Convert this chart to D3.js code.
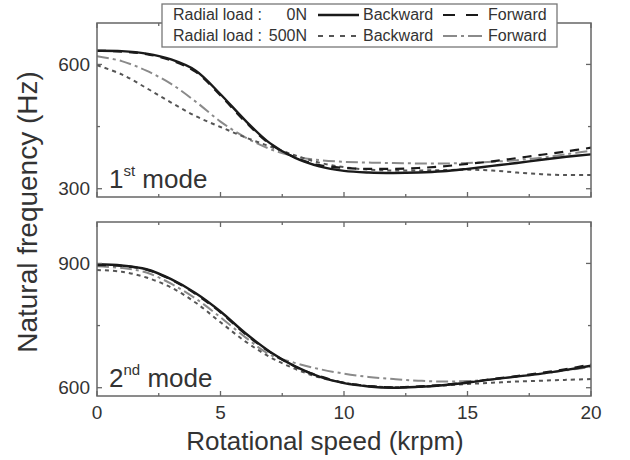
<!DOCTYPE html>
<html>
<head>
<meta charset="utf-8">
<script src="https://cdn.jsdelivr.net/npm/d3@7"></script>
<style>
  body { margin: 0; background: #fff; }
  text { font-family: "Liberation Sans", Arial, sans-serif; fill: #333; }
</style>
</head>
<body>
<svg id="chart" width="630" height="460"></svg>
<script>
// rotational speed (krpm)
const speed = [0,1,2,3,4,5,6,7,8,9,10,11,12,13,14,15,16,17,18,19,20];

// 1st mode natural frequency (Hz)
const mode1_0N_backward   = [633,632,626,612,585,528,465,410,375,354,343,339,338,339,342,348,355,362,370,377,383];
const mode1_0N_forward    = [633,631,625,610,582,525,462,408,376,357,350,348,348,350,354,360,366,374,382,390,399];
const mode1_500N_backward = [598,576,543,508,475,449,424,402,381,363,352,346,344,344,345,346,344,339,335,333,333];
const mode1_500N_forward  = [620,608,585,553,510,462,424,396,378,369,365,363,362,361,361,362,365,369,375,383,392];

// 2nd mode natural frequency (Hz)
const mode2_0N_backward   = [898,895,886,862,828,784,732,687,652,627,611,603,600,602,606,612,620,627,634,643,653];
const mode2_0N_forward    = [896,894,885,861,826,782,730,686,652,628,612,604,601,603,607,613,621,628,636,645,656];
const mode2_500N_backward = [884,880,866,842,805,758,712,674,646,625,612,604,601,602,605,609,612,615,617,619,621];
const mode2_500N_forward  = [893,889,878,851,815,770,722,680,660,645,634,626,621,617,615,616,620,627,634,642,650];

const xTicks = [0,5,10,15,20];
const panels = [
  { domain: [280,700], major: [300,600], minor: [450], label: ["1", "st", " mode"],
    series: [mode1_500N_forward, mode1_500N_backward, mode1_0N_forward, mode1_0N_backward] },
  { domain: [580,1000], major: [600,900], minor: [750], label: ["2", "nd", " mode"],
    series: [mode2_500N_forward, mode2_500N_backward, mode2_0N_forward, mode2_0N_backward] }
];

// styles in the same order as panel.series
const styles = [
  { stroke: "#8a8a8a", width: 2, dash: "12,4,3,4", legDash: "14,4,3,4" },
  { stroke: "#555",    width: 2, dash: "4,4", legDash: "5,6" },
  { stroke: "#1a1a1a", width: 2.2, dash: "9,7", legDash: "12,11" },
  { stroke: "#1a1a1a", width: 2.4, dash: null, legDash: null }
];

const svg = d3.select("#chart");
const left = 97, right = 591;
const tops = [23, 222], h = 174;

const x = d3.scaleLinear().domain([0,20]).range([left, right]);

panels.forEach((p, i) => {
  const top = tops[i];
  const y = d3.scaleLinear().domain(p.domain).range([top + h, top]);
  const g = svg.append("g");

  g.append("clipPath").attr("id", "clip" + i)
    .append("rect").attr("x", left).attr("y", top).attr("width", right - left).attr("height", h);

  const line = d3.line().x((d, j) => x(speed[j])).y(d => y(d)).curve(d3.curveCatmullRom.alpha(0.5));

  p.series.forEach((s, k) => {
    g.append("path").datum(s)
      .attr("clip-path", `url(#clip${i})`)
      .attr("d", line)
      .attr("fill", "none")
      .attr("stroke", styles[k].stroke)
      .attr("stroke-width", styles[k].width)
      .attr("stroke-dasharray", styles[k].dash);
  });

  // frame
  g.append("rect").attr("x", left).attr("y", top).attr("width", right - left).attr("height", h)
    .attr("fill", "none").attr("stroke", "#666").attr("stroke-width", 1.5);

  // inward ticks on all four sides
  const xMinor = d3.range(2.5, 20, 5);
  const tk = g.append("g").attr("stroke", "#666").attr("stroke-width", 1.3);
  xTicks.forEach(v => {
    tk.append("line").attr("x1", x(v)).attr("x2", x(v)).attr("y1", top + h).attr("y2", top + h - 5);
    tk.append("line").attr("x1", x(v)).attr("x2", x(v)).attr("y1", top).attr("y2", top + 5);
  });
  xMinor.forEach(v => {
    tk.append("line").attr("x1", x(v)).attr("x2", x(v)).attr("y1", top + h).attr("y2", top + h - 3);
    tk.append("line").attr("x1", x(v)).attr("x2", x(v)).attr("y1", top).attr("y2", top + 3);
  });
  p.major.forEach(v => {
    tk.append("line").attr("x1", left).attr("x2", left + 5).attr("y1", y(v)).attr("y2", y(v));
    tk.append("line").attr("x1", right).attr("x2", right - 5).attr("y1", y(v)).attr("y2", y(v));
    g.append("text").attr("x", 90).attr("y", y(v)).attr("dy", "0.35em")
      .attr("text-anchor", "end").attr("font-size", 19).text(v);
  });
  p.minor.forEach(v => {
    tk.append("line").attr("x1", left).attr("x2", left + 3).attr("y1", y(v)).attr("y2", y(v));
    tk.append("line").attr("x1", right).attr("x2", right - 3).attr("y1", y(v)).attr("y2", y(v));
  });

  // mode label
  const t = g.append("text").attr("x", 109).attr("y", top + h - 9).attr("font-size", 26).attr("fill", "#222");
  t.append("tspan").text(p.label[0]);
  t.append("tspan").attr("font-size", 15).attr("dy", -12).text(p.label[1]);
  t.append("tspan").attr("dy", 12).text(p.label[2]);
});

// x tick labels
svg.append("g").selectAll("text").data(xTicks).join("text")
  .attr("x", d => x(d)).attr("y", 419).attr("text-anchor", "middle").attr("font-size", 19).text(d => d);

// axis titles
svg.append("text").attr("x", 325).attr("y", 450).attr("text-anchor", "middle")
  .attr("font-size", 26).text("Rotational speed (krpm)");
svg.append("text").attr("transform", "translate(37,212) rotate(-90)").attr("text-anchor", "middle")
  .attr("font-size", 28).text("Natural frequency (Hz)");

// legend
const lg = svg.append("g");
lg.append("rect").attr("x", 162).attr("y", 4).attr("width", 395).attr("height", 43)
  .attr("fill", "#fff").attr("stroke", "#777").attr("stroke-width", 1.3);
const legRows = [
  { label: "Radial load :", load: "0N", y: 20, items: [styles[3], styles[2]] },
  { label: "Radial load :", load: "500N", y: 41, items: [styles[1], styles[0]] }
];
legRows.forEach((r, ri) => {
  lg.append("text").attr("x", 173).attr("y", r.y).attr("font-size", 16).attr("fill", "#444").text(r.label);
  lg.append("text").attr("x", 307).attr("y", r.y).attr("text-anchor", "end").attr("font-size", 16).attr("fill", "#444").text(r.load);
  const names = ["Backward", "Forward"];
  const sx = [[318, 359], ri === 0 ? [443, 478] : [443, 485]];
  const tx = [363, 488];
  r.items.forEach((st, k) => {
    lg.append("line").attr("x1", sx[k][0]).attr("x2", sx[k][1]).attr("y1", r.y - 5).attr("y2", r.y - 5)
      .attr("stroke", st.stroke).attr("stroke-width", st.width).attr("stroke-dasharray", st.legDash);
    lg.append("text").attr("x", tx[k]).attr("y", r.y).attr("font-size", 16).attr("fill", "#444").text(names[k]);
  });
});
</script>
</body>
</html>
